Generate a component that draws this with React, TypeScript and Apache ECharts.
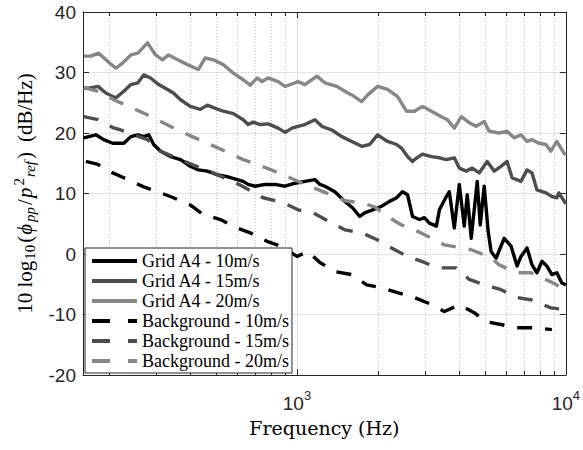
import React, { useEffect, useRef } from "react";
import * as echarts from "echarts";

// ---------- data (frequency in Hz, level in dB/Hz) ----------
const names = [
  "Grid A4 - 10m/s",
  "Grid A4 - 15m/s",
  "Grid A4 - 20m/s",
  "Background - 10m/s",
  "Background - 15m/s",
  "Background - 20m/s",
];

const xTitle = "Frequency (Hz)";

const grid10: [number, number][] = [
  [161, 19.2], [168, 19.4], [178.6, 19.7], [191, 18.9], [206.5, 18.3], [227, 18.3], [241, 19.4], [256, 19.7],
  [269, 19.4], [281, 19.7], [293, 18.1], [311, 17.0], [338.5, 16.1], [369, 15.6], [401, 14.5], [430, 13.9],
  [464, 13.7], [505, 13.1], [550, 12.8], [600, 12.3], [631, 12.0], [658, 11.5], [699, 11.2], [761, 11.5],
  [829, 11.5], [903, 11.2], [983, 11.7], [1071, 12.0], [1166, 12.3], [1217, 11.5], [1270, 11.2], [1383, 10.3],
  [1506, 8.7], [1613, 7.6], [1712, 6.2], [1786, 6.8], [1912, 7.3], [2064, 7.9], [2210, 8.7], [2347, 9.3],
  [2470, 10.3], [2577, 9.8], [2690, 6.2], [2855, 5.7], [2979, 6.0], [3109, 5.1], [3301, 4.6], [3387, 7.3],
  [3594, 9.5], [3687, 10.3], [3848, 4.3], [4016, 11.5], [4190, 4.6], [4299, 9.8], [4448, 2.6], [4682, 12.0],
  [4804, 4.8], [4971, 11.2], [5143, 3.7], [5275, 0.4], [5505, -0.7], [5895, 2.6], [6258, 1.3], [6585, -2.0],
  [6813, -0.4], [7173, 1.0], [7485, -1.8], [7810, -3.1], [8150, -1.2], [8505, -2.0], [8875, -3.4], [9261, -3.1],
  [9665, -4.8], [10000, -5.1],
];

const grid15: [number, number][] = [
  [161, 27.4], [168, 27.4], [182, 27.7], [194.5, 26.6], [212, 25.8], [227, 26.9], [241, 28.0], [256, 28.3],
  [269, 29.6], [285.5, 29.1], [306, 28.0], [330, 27.2], [347, 26.6], [369, 25.5], [401, 24.4], [437, 23.9],
  [464, 24.6], [489, 24.2], [532, 23.6], [580, 23.2], [631, 22.2], [658, 21.4], [687, 21.8], [729, 21.4],
  [781, 21.5], [851, 20.8], [903, 20.1], [958, 20.8], [1009, 21.1], [1071, 21.4], [1166, 22.2], [1238, 21.1],
  [1348, 20.5], [1468, 19.4], [1599, 18.6], [1741, 17.8], [1864, 18.1], [1995, 19.7], [2173, 18.6], [2347, 18.1],
  [2448, 17.5], [2577, 16.1], [2690, 15.3], [2735, 15.6], [2929, 16.5], [3162, 16.1], [3387, 15.9], [3594, 15.6],
  [3848, 15.9], [4016, 14.2], [4262, 13.7], [4486, 14.2], [4763, 13.4], [5098, 15.3], [5412, 13.7], [5746, 14.5],
  [6048, 15.3], [6310, 12.6], [6813, 12.0], [7173, 13.9], [7485, 13.4], [7810, 10.6], [8433, 10.1], [8875, 9.5],
  [9261, 9.3], [9421, 10.1], [10000, 8.3],
];

const grid20: [number, number][] = [
  [161, 32.7], [171, 32.7], [183, 33.2], [198, 31.8], [212, 30.7], [225, 31.6], [241, 32.9], [256, 33.2],
  [278, 34.9], [298, 32.9], [316, 32.1], [333, 32.9], [360, 32.1], [391, 31.3], [430, 30.5], [456, 32.4],
  [489, 32.1], [532, 31.3], [580, 29.9], [631, 28.8], [670, 27.9], [711, 29.1], [742, 28.5], [781, 29.1],
  [851, 28.5], [903, 27.7], [958, 28.1], [1009, 28.5], [1071, 28.0], [1186, 29.4], [1270, 28.3], [1407, 27.7],
  [1506, 26.9], [1599, 26.3], [1741, 25.2], [1833, 26.3], [1995, 27.7], [2173, 27.2], [2367, 26.0], [2555, 23.6],
  [2735, 23.6], [2929, 24.4], [3162, 23.6], [3443, 22.7], [3626, 22.2], [3848, 20.8], [4085, 22.7], [4372, 21.7],
  [4642, 21.1], [4971, 21.9], [5186, 20.3], [5649, 20.0], [6048, 20.3], [6419, 19.2], [6813, 19.7], [7173, 18.6],
  [7485, 18.9], [7943, 18.3], [8433, 18.1], [8799, 17.0], [9261, 18.6], [9830, 16.7], [10000, 16.4],
];

const bg10: [number, number][] = [
  [164, 15.3], [182, 14.8], [206.5, 13.4], [227, 12.6], [269, 11.1], [303, 10.3], [347, 9.3], [401, 8.1],
  [449, 6.5], [519, 5.7], [590, 4.4], [670, 3.5], [774, 2.1], [880, 1.2], [1000, -0.4], [1098, 0.4],
  [1217, -1.4], [1383, -2.9], [1599, -3.4], [1817, -5.1], [2082, -5.6], [2367, -6.4], [2735, -7.2], [3109, -8.2],
  [3533, -9.5], [4016, -8.4], [4563, -9.7], [5054, -11.2], [5795, -11.7], [6585, -12.2], [7743, -12.2], [8875, -12.5],
];

const bg15: [number, number][] = [
  [161, 22.7], [182, 22.2], [206.5, 20.9], [221, 20.5], [278, 18.9], [303, 17.2], [391, 15.1], [489, 13.4],
  [615, 11.4], [748, 9.3], [888, 8.5], [1009, 7.3], [1147, 6.8], [1325, 5.3], [1506, 4.0], [1741, 3.5],
  [1979, 2.4], [2248, 1.0], [2577, -0.4], [2979, -1.4], [3330, -2.3], [3914, -2.3], [4372, -4.2], [4971, -5.1],
  [5746, -5.9], [6585, -7.2], [7485, -7.6], [8799, -8.9], [10000, -9.2],
];

const bg20: [number, number][] = [
  [161, 27.5], [186, 26.8], [208, 25.5], [237, 24.4], [278, 23.0], [311, 21.9], [360, 20.5], [408, 19.4],
  [476, 18.1], [541, 17.0], [631, 15.6], [794, 14.0], [942, 12.6], [1071, 11.5], [1238, 10.4], [1506, 8.8],
  [1712, 8.5], [1945, 7.8], [2118, 6.5], [2448, 4.8], [2735, 4.0], [3245, 2.4], [3533, 1.5], [4120, 1.0],
  [4448, 0.7], [5275, -0.6], [5649, -1.8], [6585, -3.1], [7421, -3.1], [8799, -4.6], [10000, -5.9],
];

const minorFreqs = [200, 300, 400, 500, 600, 700, 800, 900, 2000, 3000, 4000, 5000, 6000, 7000, 8000, 9000];

const X_MIN = 160;
const X_MAX = 10000;
const Y_MIN = -20;
const Y_MAX = 40;
const Y_STEP = 10;

// ---------- styling ----------
const serif = "Liberation Serif";
const serifWide = "DejaVu Serif";
const sans = "Liberation Sans";
const axisColor = "#262626";
const cBlack = "#000000";
const cDark = "#4d4d4d";
const cLight = "#878787";
const dash = [15, 13];

const isPow10 = (v: number) => {
  const l = Math.log10(v);
  return Math.abs(l - Math.round(l)) < 1e-6;
};

const mkLine = (name: string, data: [number, number][], color: string, dashed: boolean) => ({
  name,
  type: "line",
  data,
  symbol: "none",
  showSymbol: false,
  silent: true,
  z: 3,
  lineStyle: { color, width: 3.4, type: dashed ? dash : "solid", cap: "butt", join: "round" },
  itemStyle: { color },
});

const option: any = {
  animation: false,
  backgroundColor: "#ffffff",
  grid: { left: 83, top: 12, right: 16, bottom: 75, containLabel: false },
  xAxis: [
    {
      type: "log",
      logBase: 10,
      min: X_MIN,
      max: X_MAX,
      position: "bottom",
      name: "{t|" + xTitle + "}",
      nameLocation: "middle",
      nameGap: 41,
      nameTextStyle: {
        fontFamily: serifWide,
        fontSize: 19,
        fontWeight: "normal",
        color: "#000",
        rich: { t: { fontFamily: serifWide, fontSize: 19, fontWeight: "normal", color: "#000", lineHeight: 24 } },
      },
      axisLine: { show: true, onZero: false, lineStyle: { color: axisColor, width: 1 } },
      axisTick: { show: true, inside: true, length: 6, lineStyle: { color: axisColor, width: 1 } },
      axisLabel: {
        show: true,
        margin: 14,
        showMinLabel: false,
        formatter: (v: number) => (isPow10(v) ? `{b|10}{s|${Math.round(Math.log10(v))}}` : ""),
        rich: {
          b: { fontFamily: sans, fontSize: 19, color: "#262626", lineHeight: 24, verticalAlign: "bottom" },
          s: { fontFamily: sans, fontSize: 13, color: "#262626", lineHeight: 13, verticalAlign: "top" },
        },
      },
      splitLine: { show: true, lineStyle: { color: "#e2e2e2", width: 1 } },
    },
    {
      type: "log",
      logBase: 10,
      min: X_MIN,
      max: X_MAX,
      position: "top",
      axisLine: { show: true, onZero: false, lineStyle: { color: axisColor, width: 1 } },
      axisTick: { show: true, inside: true, length: 6, lineStyle: { color: axisColor, width: 1 } },
      axisLabel: { show: false },
      splitLine: { show: false },
    },
  ],
  yAxis: [
    {
      type: "value",
      min: Y_MIN,
      max: Y_MAX,
      interval: Y_STEP,
      position: "left",
      name: "{n|10 log}{s|10}{n|(}{i|ϕ}{si|pp}{n|/}{i|p}{sp|2}{si|ref}{n|)}{g| }{n|(dB/Hz)}",
      nameLocation: "middle",
      nameRotate: 90,
      nameGap: 45,
      nameTextStyle: {
        fontFamily: serif,
        fontSize: 20,
        color: "#000",
        rich: {
          n: { fontFamily: serif, fontSize: 21, color: "#000", lineHeight: 26, verticalAlign: "middle" },
          g: { fontFamily: serif, fontSize: 21, color: "#000", lineHeight: 26, width: 10 },
          i: { fontFamily: serif, fontSize: 21, fontStyle: "italic", color: "#000", lineHeight: 26, verticalAlign: "middle", padding: [0, 1, 0, 1] },
          s: { fontFamily: serif, fontSize: 15, color: "#000", lineHeight: 15, verticalAlign: "bottom", padding: [0, 2, 0, 1] },
          si: { fontFamily: serif, fontSize: 15, fontStyle: "italic", color: "#000", lineHeight: 15, verticalAlign: "bottom", padding: [0, 2, 0, 1] },
          sp: { fontFamily: serif, fontSize: 15, color: "#000", lineHeight: 15, verticalAlign: "top", padding: [0, 0, 0, 1] },
        },
      },
      axisLine: { show: true, onZero: false, lineStyle: { color: axisColor, width: 1 } },
      axisTick: { show: true, inside: true, length: 6, lineStyle: { color: axisColor, width: 1 } },
      axisLabel: { show: true, margin: 7, fontFamily: sans, fontSize: 19, color: "#262626" },
      splitLine: { show: true, lineStyle: { color: "#e2e2e2", width: 1 } },
    },
    {
      type: "value",
      min: Y_MIN,
      max: Y_MAX,
      interval: Y_STEP,
      position: "right",
      axisLine: { show: true, onZero: false, lineStyle: { color: axisColor, width: 1 } },
      axisTick: { show: true, inside: true, length: 6, lineStyle: { color: axisColor, width: 1 } },
      axisLabel: { show: false },
      splitLine: { show: false },
    },
  ],
  legend: {
    orient: "vertical",
    left: 85,
    top: 248,
    selectedMode: false,
    itemWidth: 45,
    itemHeight: 14,
    itemGap: 2,
    padding: [4, 3, 3, 5],
    backgroundColor: "#ffffff",
    borderColor: axisColor,
    borderWidth: 1,
    borderRadius: 0,
    itemStyle: { opacity: 0 },
    textStyle: { fontFamily: serif, fontSize: 18, color: "#000", lineHeight: 18 },
    data: names.map((n, i) => ({
      name: n,
      itemStyle: { opacity: 0 },
      lineStyle: i < 3 ? { width: 4, opacity: 1 } : { width: 4, opacity: 1, type: [18, 18] },
    })),
  },
  series: [
    {
      type: "custom",
      name: "minor-grid",
      coordinateSystem: "cartesian2d",
      xAxisIndex: 0,
      yAxisIndex: 0,
      silent: true,
      z: 1,
      data: minorFreqs.map((f) => [f, Y_MIN]),
      renderItem: (_p: any, api: any) => {
        const f = api.value(0);
        const pb = api.coord([f, Y_MIN]);
        const pt = api.coord([f, Y_MAX]);
        const x = Math.round(pb[0]) + 0.5;
        const yb = pb[1];
        const yt = pt[1];
        return {
          type: "group",
          children: [
            { type: "line", shape: { x1: x, y1: yt, x2: x, y2: yb }, style: { stroke: "#c4c4c4", lineWidth: 1, lineDash: [1, 2] } },
            { type: "line", shape: { x1: x, y1: yb, x2: x, y2: yb - 4 }, style: { stroke: axisColor, lineWidth: 1 } },
            { type: "line", shape: { x1: x, y1: yt, x2: x, y2: yt + 4 }, style: { stroke: axisColor, lineWidth: 1 } },
          ],
        };
      },
    },
    mkLine(names[0], grid10, cBlack, false),
    mkLine(names[1], grid15, cDark, false),
    mkLine(names[2], grid20, cLight, false),
    mkLine(names[3], bg10, cBlack, true),
    mkLine(names[4], bg15, cDark, true),
    mkLine(names[5], bg20, cLight, true),
  ],
};

export default function App() {
  const ref = useRef<HTMLDivElement>(null);
  useEffect(() => {
    if (!ref.current) return;
    const chart = echarts.init(ref.current, null, { renderer: "svg" });
    chart.setOption(option);
    return () => chart.dispose();
  }, []);
  return (
    <div
      ref={ref}
      style={{ position: "fixed", left: 0, top: 0, width: 583, height: 450, background: "#fff" }}
    />
  );
}
